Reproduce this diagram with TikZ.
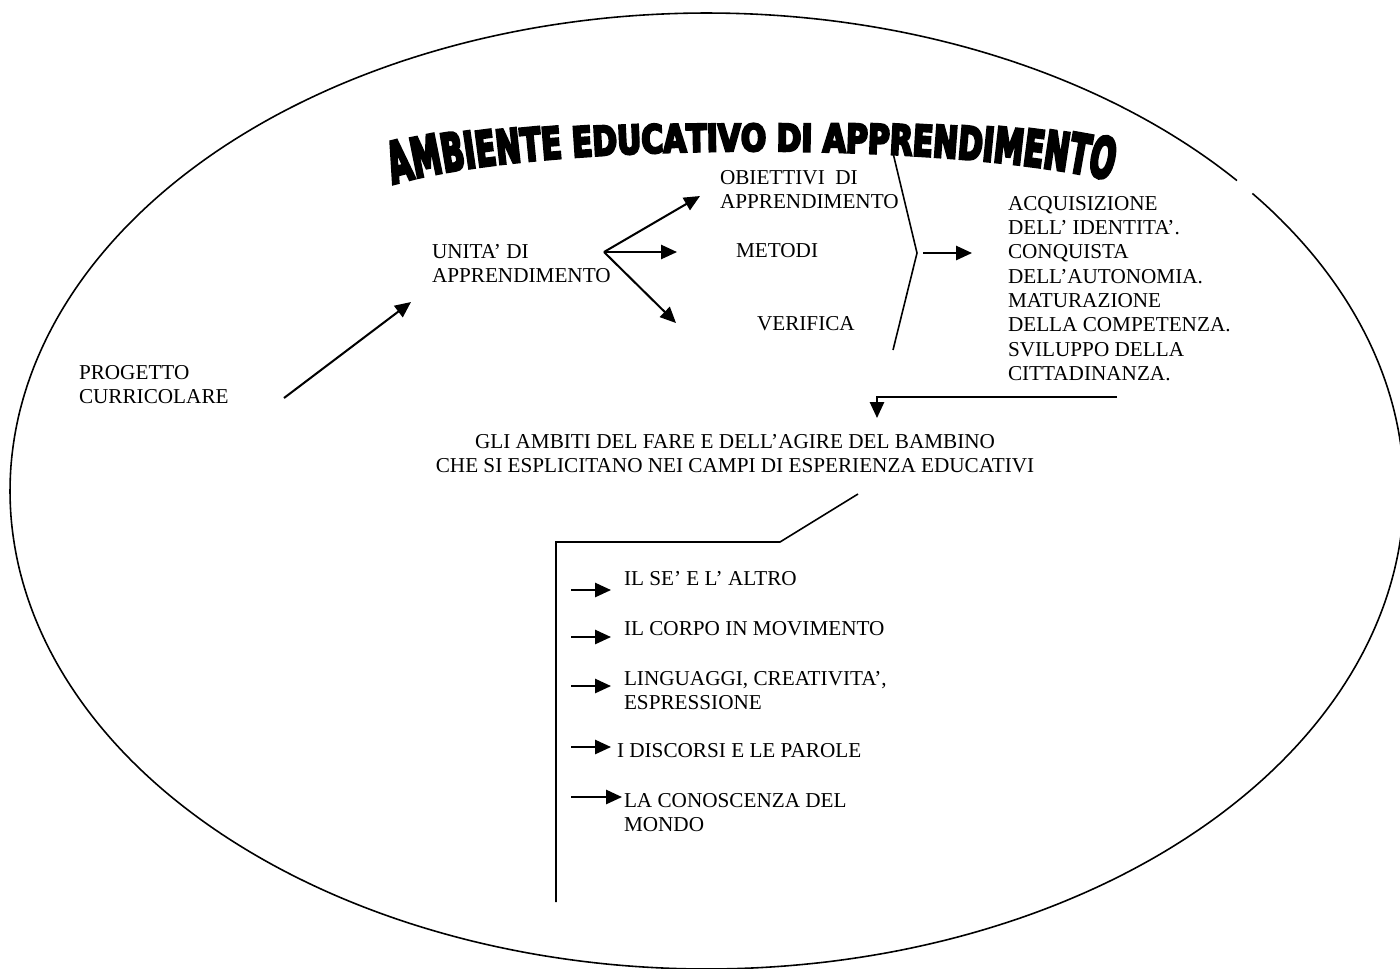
\documentclass[tikz,border=0pt]{standalone}
\usepackage{fontspec}
\setmainfont{Liberation Serif}
\newfontfamily\titlefont{DejaVu Sans}[FakeStretch=0.80,FakeBold=6,BoldFeatures={FakeBold=6}]
\usetikzlibrary{arrows.meta,decorations.text}
\begin{document}
\begin{tikzpicture}[x=0.566pt,y=-0.566pt,
  lbl/.style={inner sep=0pt,outer sep=0pt,align=left,anchor=north west,font=\fontsize{12}{13.8}\selectfont},
  ctr/.style={inner sep=0pt,outer sep=0pt,align=center,anchor=north,font=\fontsize{12}{13.8}\selectfont},
  plainline/.style={line width=0.9pt},
  arr/.style={line width=1.15pt,-{Triangle[length=9pt,width=8pt]}},
  ]
\clip (0,0) rectangle (1400,968);
% outer ellipse (with the small break on the upper right)
\draw[plainline] plot[domain=-38.5:319.5,samples=300,smooth] ({707+697*cos(\x)},{491+478*sin(\x)});
% title (arched word-art)
\path[decorate,decoration={text effects along path,
   text={AMBIENTE EDUCATIVO DI APPRENDIMENTO},
   text align=left,
   text effects/.cd,
     character count=\i, character total=\n,
     characters={text along path, inner sep=0pt, font=\titlefont\bfseries\fontsize{21}{21}\selectfont, yscale={1+0.55*abs(2*(\i-0.5)/\n-1)^2}}}]
  (393,184) .. controls (540,140) and (970,140) .. (1126,184);
% text nodes
\node[lbl] (prog) at (79,365) {PROGETTO\\CURRICOLARE};
\node[lbl] (unita) at (432,244) {UNITA’ DI\\APPRENDIMENTO};
\node[lbl] (obi) at (720,170) {OBIETTIVI\ \ DI\\APPRENDIMENTO};
\node[lbl] (met) at (736,243) {METODI};
\node[lbl] (ver) at (757,316) {VERIFICA};
\node[lbl] (acq) at (1008,196) {ACQUISIZIONE\\DELL’ IDENTITA’.\\CONQUISTA\\DELL’AUTONOMIA.\\MATURAZIONE\\DELLA COMPETENZA.\\SVILUPPO DELLA\\CITTADINANZA.};
\node[ctr] (amb) at (735,434) {GLI AMBITI DEL FARE E DELL’AGIRE DEL BAMBINO\\CHE SI ESPLICITANO NEI CAMPI DI ESPERIENZA EDUCATIVI};
\node[lbl] (c1) at (624,571) {IL SE’ E L’ ALTRO};
\node[lbl] (c2) at (624,621) {IL CORPO IN MOVIMENTO};
\node[lbl] (c3) at (624,671) {LINGUAGGI, CREATIVITA’,\\ESPRESSIONE};
\node[lbl] (c4) at (617,743) {I DISCORSI E LE PAROLE};
\node[lbl] (c5) at (624,793) {LA CONOSCENZA DEL\\MONDO};
% coordinates
\coordinate (progOut) at (284,398);
\coordinate (unitaIn) at (411,302);
\coordinate (fork) at (604,252);
\coordinate (obiIn) at (700,196);
\coordinate (metIn) at (677,252);
\coordinate (verIn) at (676,323);
\coordinate (brTop) at (893,153);
\coordinate (brTip) at (917,253);
\coordinate (brBot) at (893,350);
\coordinate (brOut) at (923,253);
\coordinate (acqIn) at (972,253);
\coordinate (acqOut) at (1117,397);
\coordinate (ambIn) at (877,418);
\coordinate (lbA) at (858,494);
\coordinate (lbB) at (780,542);
\coordinate (lbC) at (556,542);
\coordinate (lbD) at (556,902);
\coordinate (a1) at (571,590); \coordinate (b1) at (611,590);
\coordinate (a2) at (571,637); \coordinate (b2) at (611,637);
\coordinate (a3) at (571,686); \coordinate (b3) at (611,686);
\coordinate (a4) at (571,747); \coordinate (b4) at (611,747);
\coordinate (a5) at (571,797); \coordinate (b5) at (622,797);
% connectors
\draw[arr] (progOut) -- (unitaIn);
\draw[arr] (fork) -- (obiIn);
\draw[arr] (fork) -- (metIn);
\draw[arr] (fork) -- (verIn);
\draw[plainline] (brTop) -- (brTip) -- (brBot);
\draw[arr] (brOut) -- (acqIn);
\draw[arr] (acqOut) -| (ambIn);
\draw[plainline] (lbA) -- (lbB) -- (lbC) -- (lbD);
\draw[arr] (a1) -- (b1);
\draw[arr] (a2) -- (b2);
\draw[arr] (a3) -- (b3);
\draw[arr] (a4) -- (b4);
\draw[arr] (a5) -- (b5);
\end{tikzpicture}
\end{document}
